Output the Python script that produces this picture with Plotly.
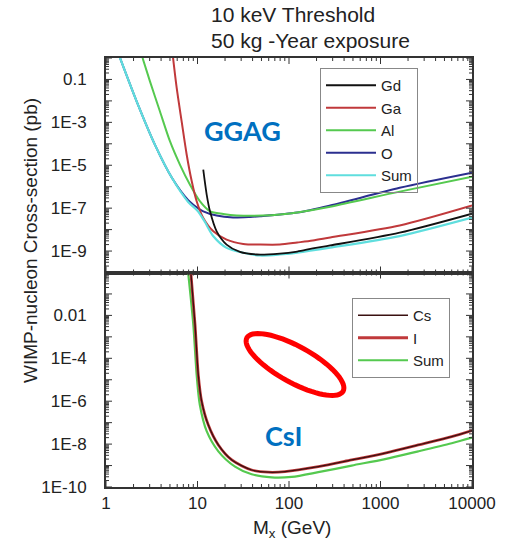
import math
import plotly.graph_objects as go
from plotly.subplots import make_subplots

# ---------------- data ----------------
# Top panel: GGAG
gd_m = [11.56, 12.6, 13.7, 16.2, 20.8, 29.1, 44.4, 79.4, 123, 182, 282, 1620, 10000]
gd_s = [6.2e-6, 4.3e-7, 7.1e-8, 8.3e-9, 2.0e-9, 9.1e-10, 6.9e-10, 7.6e-10, 9.5e-10, 1.32e-9, 1.82e-9, 7.2e-9, 5.5e-8]

ga_m = [5.36, 5.93, 6.71, 7.62, 8.65, 9.79, 11.56, 14.9, 20.8, 31.6, 48.2, 79.4, 123, 182, 282, 1620, 10000]
ga_s = [1.38, 3.9e-2, 1.1e-3, 3.1e-5, 1.78e-6, 2.1e-7, 3.5e-8, 8.3e-9, 3.4e-9, 2.14e-9, 2.0e-9, 2.0e-9, 2.5e-9, 3.1e-9, 4.3e-9, 1.55e-8, 1.32e-7]

al_m = [2.51, 3.03, 3.89, 5.01, 6.44, 8.28, 10.6, 13.7, 19.1, 26.8, 52.5, 79.4, 123, 282, 1620, 10000]
al_s = [1.0, 7.9e-2, 3.2e-3, 1.29e-4, 1.05e-5, 1.23e-6, 2.1e-7, 7.1e-8, 5.4e-8, 4.6e-8, 4.5e-8, 5.0e-8, 6.3e-8, 1.17e-7, 5.9e-7, 2.95e-6]

o_m = [1.41, 2.24, 3.43, 5.25, 7.87, 9.0, 11.56, 16.2, 24.5, 37.5, 48.2, 123, 282, 1620, 10000]
o_s = [1.12, 6.5e-3, 8.9e-5, 2.6e-6, 2.4e-7, 1.45e-7, 7.1e-8, 4.5e-8, 3.7e-8, 3.9e-8, 4.2e-8, 6.2e-8, 1.32e-7, 8.9e-7, 4.5e-6]

sum_m = [1.41, 2.24, 3.43, 5.25, 7.87, 10.0, 12.0, 14.9, 20.8, 31.6, 48.2, 79.4, 123, 282, 1620, 10000]
sum_s = [1.12, 6.5e-3, 8.9e-5, 2.6e-6, 2.0e-7, 7.6e-8, 2.35e-8, 4.9e-9, 1.41e-9, 8.3e-10, 6.2e-10, 6.9e-10, 8.5e-10, 1.45e-9, 5.0e-9, 3.6e-8]

# Bottom panel: CsI
i_m = [8.49, 9.40, 10.2, 11.1, 13.1, 16.9, 23.7, 39.1, 59.4, 90.4, 209, 484, 1122, 2588, 6000, 10000]
i_s = [0.81, 3.7e-3, 1.7e-5, 9.8e-7, 7.9e-8, 9.1e-9, 1.82e-9, 6.2e-10, 4.9e-10, 5.2e-10, 8.9e-10, 1.82e-9, 3.8e-9, 9.1e-9, 2.24e-8, 4.3e-8]
cs_m = i_m
cs_s = i_s
csisum_m = [7.94, 9.0, 9.79, 10.6, 12.6, 16.9, 25.7, 39.1, 64.6, 107, 209, 484, 1122, 2588, 6000, 10000]
csisum_s = [0.81, 3.7e-3, 1.7e-5, 6.8e-7, 4.0e-8, 4.6e-9, 8.9e-10, 3.9e-10, 2.8e-10, 2.95e-10, 4.9e-10, 1.0e-9, 2.0e-9, 4.6e-9, 1.1e-8, 2.0e-8]

x_tickvals = [1, 10, 100, 1000, 10000]
x_ticktext = ["1", "10", "100", "1000", "10000"]
decades = list(range(-10, 1))
top_y_labels = {-1: "0.1", -3: "1E-3", -5: "1E-5", -7: "1E-7", -9: "1E-9"}
bot_y_labels = {-2: "0.01", -4: "1E-4", -6: "1E-6", -8: "1E-8", -10: "1E-10"}

# ---------------- figure ----------------
W, H = 510, 552
ML, MR, MT, MB = 106, 38, 58, 65
PW, PH = W - ML - MR, (H - MT - MB) / 2.0
fig = make_subplots(rows=2, cols=1, shared_xaxes=True, vertical_spacing=0)

C_BLACK = "#111111"
C_RED = "#c0393b"
C_GREEN = "#55c94f"
C_BLUE = "#2b2f8f"
C_CYAN = "#5fdede"

def line(m, s, name, color, width, row, legend, rank):
    fig.add_trace(go.Scatter(x=m, y=s, mode="lines", name=name,
                             line=dict(color=color, width=width, shape="spline", smoothing=0.8),
                             legend=legend, legendrank=rank), row=row, col=1)

line(o_m, o_s, "O", C_BLUE, 2, 1, "legend", 4)
line(al_m, al_s, "Al", C_GREEN, 2, 1, "legend", 3)
line(ga_m, ga_s, "Ga", C_RED, 2, 1, "legend", 2)
line(sum_m, sum_s, "Sum", C_CYAN, 2.2, 1, "legend", 5)
line(gd_m, gd_s, "Gd", C_BLACK, 1.8, 1, "legend", 1)

line(csisum_m, csisum_s, "Sum", C_GREEN, 2.2, 2, "legend2", 3)
line(i_m, i_s, "I", C_RED, 2.8, 2, "legend2", 2)
line(cs_m, cs_s, "Cs", "#3a1010", 1.3, 2, "legend2", 1)

axis_col = "#333333"
tickfont = dict(family="Liberation Sans, Arial", size=17, color="#222222")
common = dict(type="log", ticks="", mirror=True, showline=True, linecolor=axis_col, linewidth=1.5,
              showgrid=False, zeroline=False, tickfont=tickfont)

fig.update_xaxes(range=[0, 4], tickmode="array", tickvals=x_tickvals, ticktext=x_ticktext, **common)
fig.update_xaxes(showticklabels=False, row=1, col=1)

pad = "\u00a0\u00a0\u00a0"
fig.update_yaxes(range=[-10, 0], tickmode="array", tickvals=[10.0 ** e for e in decades],
                 ticktext=[top_y_labels[e] + pad if e in top_y_labels else "" for e in decades],
                 row=1, col=1, **common)
fig.update_yaxes(range=[-10, 0], tickmode="array", tickvals=[10.0 ** e for e in decades],
                 ticktext=[bot_y_labels[e] + pad if e in bot_y_labels else "" for e in decades],
                 row=2, col=1, **common)

# inside tick marks (major decades + minor 2..9) on all four sides of each panel,
# positioned in data units through the log axes
MAJ, MIN = 6, 3
tick_shapes = []
def tick_list(e_lo, e_hi):
    out = []
    for e in range(e_lo, e_hi + 1):
        out.append((10.0 ** e, MAJ))
        if e < e_hi:
            for k in range(2, 10):
                out.append((k * 10.0 ** e, MIN))
    return out

for xr, yr in (("x", "y"), ("x2", "y2")):
    for v, ln in tick_list(0, 4):
        f = ln / PH
        for y0, y1 in ((0, f), (1, 1 - f)):
            tick_shapes.append(dict(type="line", xref=xr, yref=yr + " domain", x0=v, x1=v, y0=y0, y1=y1,
                                    line=dict(color=axis_col, width=1)))
    for v, ln in tick_list(-10, 0):
        f = ln / PW
        for x0, x1 in ((0, f), (1, 1 - f)):
            tick_shapes.append(dict(type="line", xref=xr + " domain", yref=yr, x0=x0, x1=x1, y0=v, y1=v,
                                    line=dict(color=axis_col, width=1)))

def px2paper(px, py):
    return (px - ML) / PW, (H - MB - py) / (H - MT - MB)

# red ellipse highlight
cx, cy, a, b, th = 295, 364.5, 55, 18, math.radians(29)
pts = []
for k in range(73):
    t = 2 * math.pi * k / 72
    ex = cx + a * math.cos(t) * math.cos(th) - b * math.sin(t) * math.sin(th)
    ey = cy + a * math.cos(t) * math.sin(th) + b * math.sin(t) * math.cos(th)
    pts.append(px2paper(ex, ey))
path = "M " + " L ".join(f"{x:.5f},{y:.5f}" for x, y in pts) + " Z"
tick_shapes.append(dict(type="path", path=path, xref="paper", yref="paper",
                        line=dict(color="#ff0000", width=5)))
fig.update_layout(shapes=tick_shapes)

def ann(text, px, py, font, xanchor="center", textangle=0):
    x, y = px2paper(px, py)
    fig.add_annotation(text=text, x=x, y=y, xref="paper", yref="paper", showarrow=False,
                       xanchor=xanchor, yanchor="middle", font=font, textangle=textangle)

title_font = dict(family="Liberation Sans, Arial", size=21, color="#222222")
lab_font = dict(family="Liberation Sans, Arial", size=19, color="#222222")
ann("10 keV Threshold", 209, 15, title_font, xanchor="left")
ann("50 kg -Year exposure", 209, 40, title_font, xanchor="left")
ann("WIMP-nucleon Cross-section (pb)", 30, 241, lab_font, textangle=-90)
ann("M<sub>x</sub> (GeV)", 292, 529, lab_font)
blue_font = dict(family="Lato", size=27, color="#0070c0", weight="bold")
ann("<b>GGAG</b>", 242, 130, blue_font)
ann("<b>CsI</b>", 283, 435, blue_font)

leg_font = dict(family="Liberation Sans, Arial", size=15, color="#222222")
lx1, ly1 = px2paper(320, 68)
lx2, ly2 = px2paper(352, 298)
fig.update_layout(
    width=W, height=H, margin=dict(l=ML, r=MR, t=MT, b=MB),
    paper_bgcolor="white", plot_bgcolor="white",
    legend=dict(x=lx1, y=ly1, xanchor="left", yanchor="top", bordercolor="#888888", borderwidth=1,
                font=leg_font, itemwidth=50, bgcolor="rgba(255,255,255,0)", tracegroupgap=0),
    legend2=dict(x=lx2, y=ly2, xanchor="left", yanchor="top", bordercolor="#888888", borderwidth=1,
                 font=leg_font, itemwidth=50, bgcolor="rgba(255,255,255,0)", tracegroupgap=0),
    showlegend=True,
)

fig.write_html("out.html")
